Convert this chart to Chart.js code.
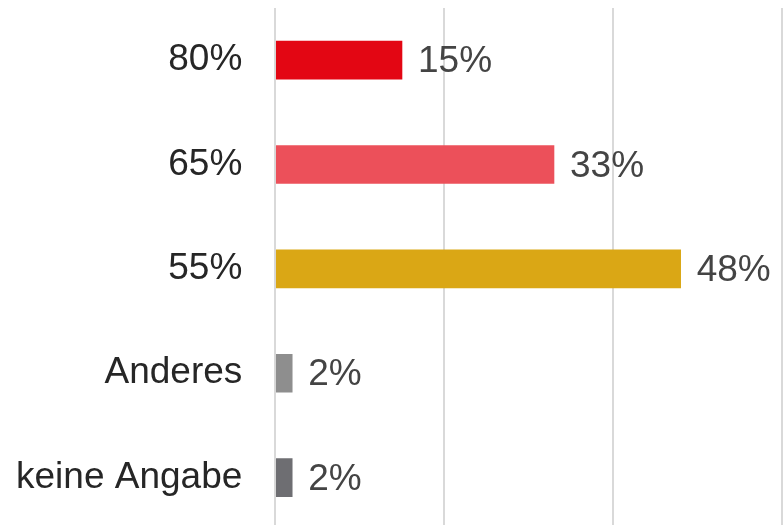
<!DOCTYPE html>
<html>
<head>
<meta charset="utf-8">
<script src="https://cdn.jsdelivr.net/npm/chart.js@4"></script>
<style>
  html, body { margin: 0; padding: 0; background: #fff; overflow: hidden; }
</style>
</head>
<body>
<canvas id="myChart" width="783" height="530"></canvas>
<script>
const categories = ['80%', '65%', '55%', 'Anderes', 'keine Angabe'];
const shares = [15, 33, 48, 2, 2];
const barColors = ['#e30613', '#ec505a', '#daa715', '#8e8e8e', '#6e6e72'];
const xTicks = [0, 20, 40, 60];

const fontFamily = '"Liberation Sans", Arial, sans-serif';

// value labels right of each bar
const valueLabels = {
    id: 'valueLabels',
    afterDatasetsDraw(chart) {
        const c = chart.ctx;
        const meta = chart.getDatasetMeta(0);
        c.save();
        c.font = '37px ' + fontFamily;
        c.fillStyle = '#444444';
        c.textAlign = 'left';
        c.textBaseline = 'middle';
        meta.data.forEach((bar, i) => {
            c.fillText(shares[i] + '%', bar.x + 16, bar.y + 2);
        });
        c.restore();
    }
};

const ctx = document.getElementById('myChart').getContext('2d');

const myChart = new Chart(ctx, {
    type: 'bar',
    data: {
        labels: categories,
        datasets: [{
            data: shares,
            backgroundColor: barColors,
            borderWidth: 0,
            barThickness: 38
        }]
    },
    options: {
        indexAxis: 'y',
        responsive: false,
        animation: false,
        layout: {
            padding: { left: 16, top: 8, right: 1, bottom: 0 }
        },
        scales: {
            x: {
                min: xTicks[0],
                max: xTicks[xTicks.length - 1],
                afterBuildTicks: (axis) => {
                    axis.ticks = xTicks.map(v => ({ value: v }));
                },
                grid: {
                    color: '#d9d9d9',
                    lineWidth: 2,
                    drawTicks: false
                },
                border: { display: false },
                ticks: { display: false }
            },
            y: {
                // gap between labels and bars comes from the (hidden) tick length,
                // so it does not add vertical padding to the axis
                grid: { display: false, drawTicks: true, tickLength: 33 },
                border: { display: false },
                ticks: {
                    color: '#262626',
                    padding: 0,
                    font: { family: fontFamily, size: 37, lineHeight: 0.01 }
                }
            }
        },
        plugins: {
            legend: { display: false },
            tooltip: { enabled: false }
        }
    },
    plugins: [valueLabels]
});
</script>
</body>
</html>
